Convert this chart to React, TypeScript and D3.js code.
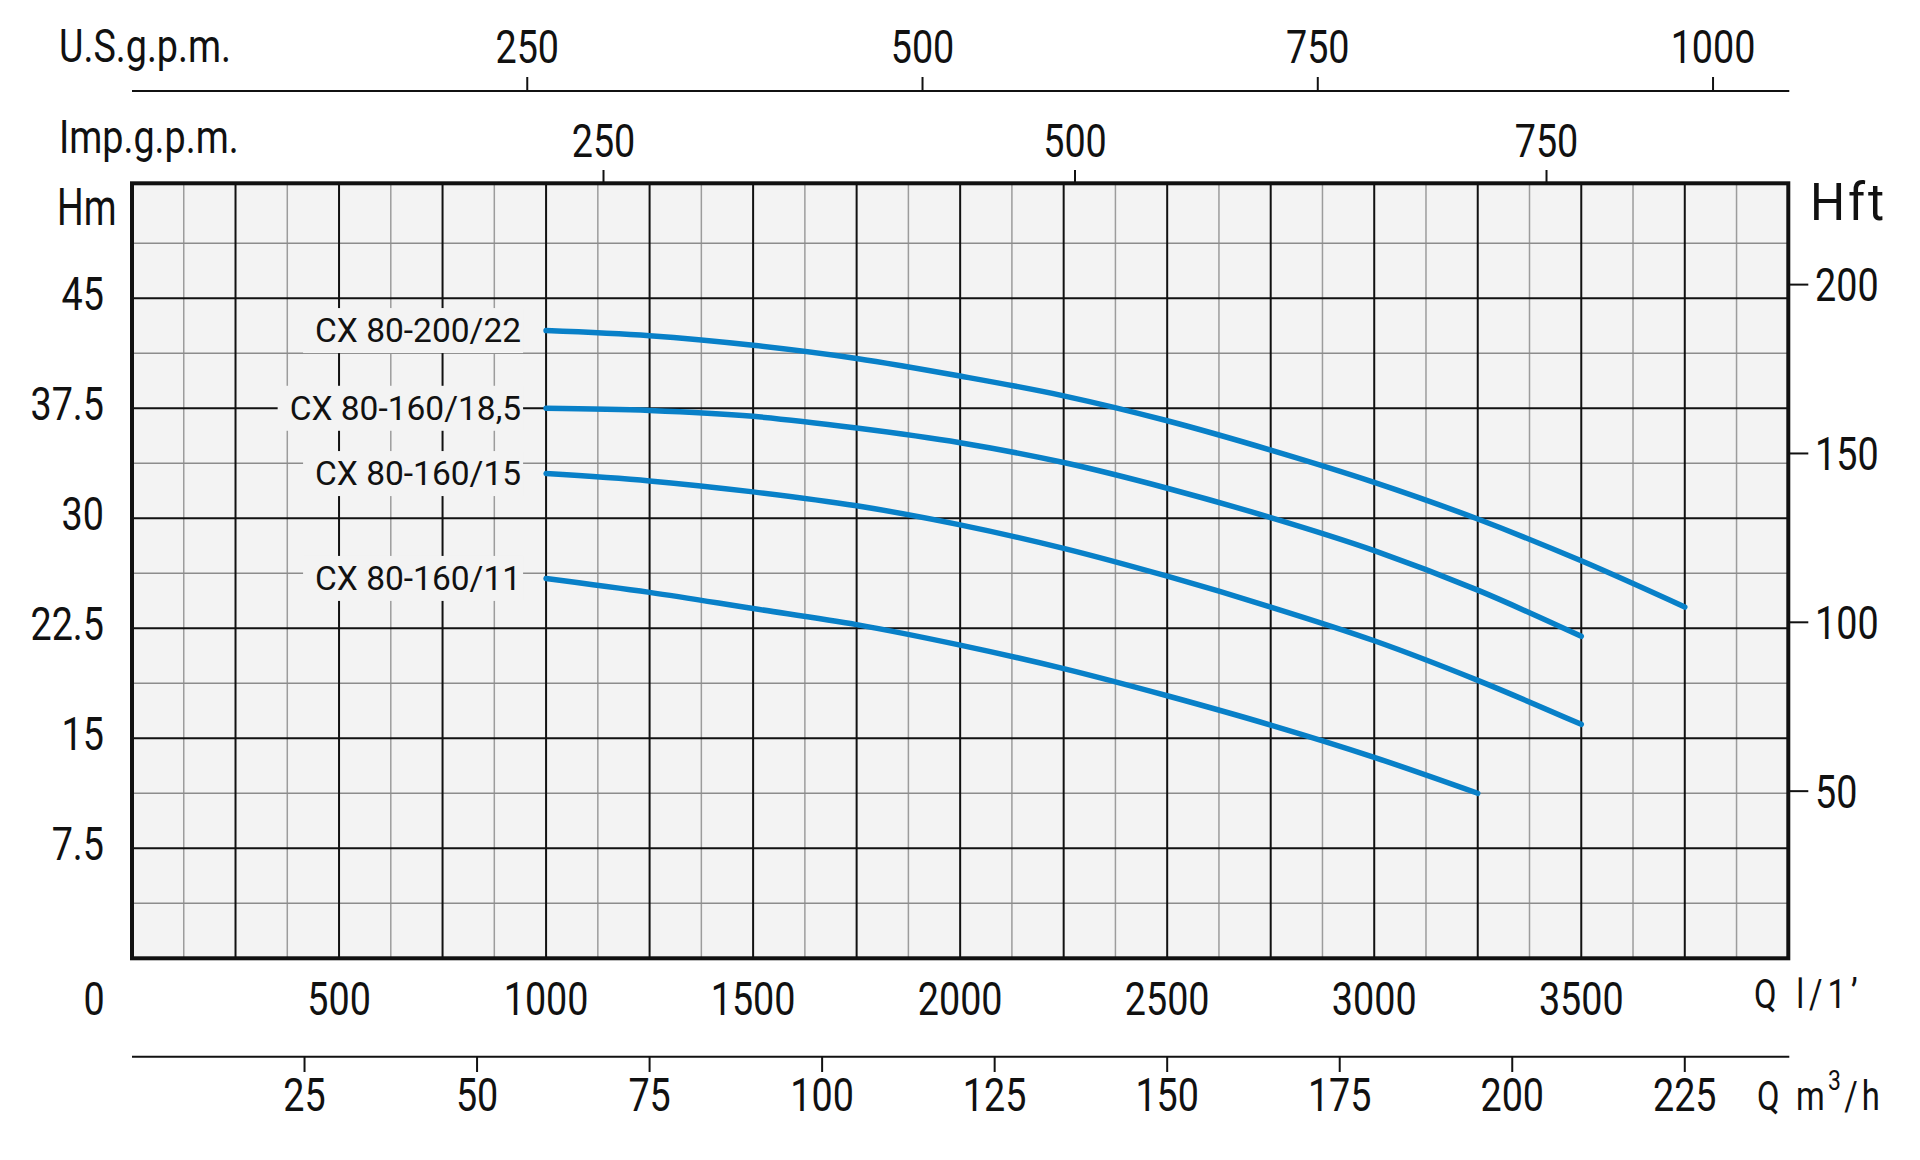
import React, { useRef, useEffect } from 'react';
import * as d3 from 'd3';

// Flow rate in l/min where the curves are read, head in metres
const flowLmin = [1000, 1250, 1500, 1750, 2000, 2250, 2500, 2750, 3000, 3250, 3500, 3750];
const headCX20022 = [42.8, 42.45, 41.8, 40.9, 39.7, 38.35, 36.65, 34.65, 32.45, 29.95, 27.1, 23.95];
const headCX160185 = [37.5, 37.35, 36.95, 36.15, 35.15, 33.8, 32.05, 30.05, 27.8, 25.1, 21.95];
const headCX16015 = [33.05, 32.55, 31.8, 30.85, 29.55, 27.95, 26.05, 23.95, 21.65, 18.95, 15.95];
const headCX16011 = [25.9, 24.95, 23.85, 22.75, 21.35, 19.75, 17.9, 15.9, 13.7, 11.25];
const seriesNames = ['CX 80-200/22', 'CX 80-160/18,5', 'CX 80-160/15', 'CX 80-160/11'];

// Axis ticks
const lminTicks = [500, 1000, 1500, 2000, 2500, 3000, 3500];
const m3hTicks = [25, 50, 75, 100, 125, 150, 175, 200, 225];
const usTicks = [250, 500, 750, 1000];
const impTicks = [250, 500, 750];
const hmTicks = [7.5, 15, 22.5, 30, 37.5, 45];
const hftTicks = [50, 100, 150, 200];

const AXIS_FONT = "Roboto, 'Noto Sans', sans-serif";
const LABEL_FONT = "Roboto, 'Noto Sans', sans-serif";
const SX = 0.82; // squeeze for the narrow technical lettering
const BLUE = '#0880c8';
const BG = '#f3f3f3';

const at = (x: number, y: number, sx = SX) => `translate(${x},${y}) scale(${sx},1)`;

const App: React.FC = () => {
  const svgRef = useRef<SVGSVGElement>(null);

  useEffect(() => {
    if (!svgRef.current) return;
    const svg = d3.select(svgRef.current);
    svg.selectAll('*').remove();

    const left = 132, right = 1788.3, top = 183.3, bottom = 958.3;

    const x = d3.scaleLinear().domain([0, 4000]).range([left, right]);
    const xM3h = d3.scaleLinear().domain([0, 240]).range([left, right]);
    const xUs = d3.scaleLinear().domain([0, 1047.6]).range([left, right]);
    const xImp = d3.scaleLinear().domain([0, 878.2]).range([left, right]);
    const y = d3.scaleLinear().domain([0, 52.84]).range([bottom, top]);
    const yFt = d3.scaleLinear().domain([0, 230]).range([960, top]);

    // plot background
    svg.append('rect')
      .attr('x', left).attr('y', top)
      .attr('width', right - left).attr('height', bottom - top)
      .attr('fill', BG);

    // grid
    const grid = svg.append('g');
    const minorX = d3.range(125, 4000, 250);
    const majorX = d3.range(250, 4000, 250);
    const minorY = d3.range(3.75, 50, 7.5);
    const majorY = d3.range(7.5, 50, 7.5);

    grid.selectAll('.minor-x').data(minorX).enter().append('line')
      .attr('x1', d => x(d)).attr('x2', d => x(d)).attr('y1', top).attr('y2', bottom)
      .attr('stroke', '#9c9c9c').attr('stroke-width', 1.5);
    grid.selectAll('.minor-y').data(minorY).enter().append('line')
      .attr('x1', left).attr('x2', right).attr('y1', d => y(d)).attr('y2', d => y(d))
      .attr('stroke', '#8c8c8c').attr('stroke-width', 1.5);
    grid.selectAll('.major-x').data(majorX).enter().append('line')
      .attr('x1', d => x(d)).attr('x2', d => x(d)).attr('y1', top).attr('y2', bottom)
      .attr('stroke', '#111').attr('stroke-width', 2);
    grid.selectAll('.major-y').data(majorY).enter().append('line')
      .attr('x1', left).attr('x2', right).attr('y1', d => y(d)).attr('y2', d => y(d))
      .attr('stroke', '#111').attr('stroke-width', 2);

    // curves
    const allHeads = [headCX20022, headCX160185, headCX16015, headCX16011];
    const line = d3.line<[number, number]>()
      .x(d => x(d[0])).y(d => y(d[1]))
      .curve(d3.curveMonotoneX);

    allHeads.forEach((heads, i) => {
      const pts: [number, number][] = heads.map((h, j) => [flowLmin[j], h]);

      // label with a background patch that hides the grid
      const lg = svg.append('g');
      const txt = lg.append('text')
        .attr('x', x(flowLmin[0]) - 25)
        .attr('y', y(heads[0]) + 11.5)
        .attr('text-anchor', 'end')
        .attr('font-family', LABEL_FONT)
        .attr('font-size', 33.5)
        .attr('fill', '#111')
        .text(seriesNames[i]);
      const bb = (txt.node() as SVGTextElement).getBBox();
      lg.insert('rect', 'text')
        .attr('x', bb.x - 12).attr('y', bb.y - 3)
        .attr('width', bb.width + 14).attr('height', bb.height + 6)
        .attr('fill', BG);

      svg.append('path')
        .attr('d', line(pts) || '')
        .attr('fill', 'none')
        .attr('stroke', BLUE)
        .attr('stroke-width', 5.5)
        .attr('stroke-linecap', 'round');
    });

    // frame
    svg.append('rect')
      .attr('x', left).attr('y', top)
      .attr('width', right - left).attr('height', bottom - top)
      .attr('fill', 'none').attr('stroke', '#111').attr('stroke-width', 4);

    const axisText = (g: d3.Selection<any, any, any, any>, size = 46) =>
      g.attr('font-family', AXIS_FONT).attr('font-size', size).attr('fill', '#111');

    // left Hm axis
    axisText(svg.append('g').selectAll('text').data(hmTicks).enter().append('text')
      .attr('transform', d => at(104, y(d) + 12))
      .attr('text-anchor', 'end')
      .text(d => String(d)));
    axisText(svg.append('text').attr('transform', at(57, 225, 0.72)).text('Hm'), 52);

    // right Hft axis
    const ft = svg.append('g');
    ft.selectAll('line').data(hftTicks).enter().append('line')
      .attr('x1', right).attr('x2', right + 20)
      .attr('y1', d => yFt(d)).attr('y2', d => yFt(d))
      .attr('stroke', '#111').attr('stroke-width', 2);
    axisText(ft.selectAll('text').data(hftTicks).enter().append('text')
      .attr('transform', d => at(1815, yFt(d) + 16.5))
      .text(d => String(d)));
    axisText(svg.append('text').attr('transform', at(1810, 220, 0.95))
      .attr('letter-spacing', 3).text('Hft'), 52);

    // bottom l/min labels
    axisText(svg.append('g').selectAll('text').data(lminTicks).enter().append('text')
      .attr('transform', d => at(x(d), 1015))
      .attr('text-anchor', 'middle')
      .text(d => String(d)));
    axisText(svg.append('text').attr('transform', at(x(0) - 38, 1015))
      .attr('text-anchor', 'middle').text('0'));
    const ql = axisText(svg.append('text').attr('transform', at(1754, 1008)), 40);
    ql.append('tspan').text('Q');
    ql.append('tspan').attr('dx', 24).attr('letter-spacing', 6).text('l/1’');

    // m3/h axis
    const m3 = svg.append('g');
    m3.append('line')
      .attr('x1', left).attr('x2', right + 1).attr('y1', 1056.7).attr('y2', 1056.7)
      .attr('stroke', '#111').attr('stroke-width', 2);
    m3.selectAll('line.t').data(m3hTicks).enter().append('line')
      .attr('x1', d => xM3h(d)).attr('x2', d => xM3h(d))
      .attr('y1', 1056.7).attr('y2', 1072)
      .attr('stroke', '#111').attr('stroke-width', 2);
    axisText(m3.selectAll('text').data(m3hTicks).enter().append('text')
      .attr('transform', d => at(xM3h(d), 1111))
      .attr('text-anchor', 'middle')
      .text(d => String(d)));
    const qm = axisText(svg.append('text').attr('transform', at(1757, 1110)), 40);
    qm.append('tspan').text('Q');
    qm.append('tspan').attr('dx', 20).attr('letter-spacing', 4).text('m');
    qm.append('tspan').attr('dy', -20).attr('font-size', 28).attr('letter-spacing', 4).text('3');
    qm.append('tspan').attr('dy', 20).attr('letter-spacing', 5).text('/h');

    // U.S. g.p.m. axis
    const us = svg.append('g');
    us.append('line')
      .attr('x1', left).attr('x2', right + 1).attr('y1', 91).attr('y2', 91)
      .attr('stroke', '#111').attr('stroke-width', 2);
    us.selectAll('line.t').data(usTicks).enter().append('line')
      .attr('x1', d => xUs(d)).attr('x2', d => xUs(d))
      .attr('y1', 91).attr('y2', 77)
      .attr('stroke', '#111').attr('stroke-width', 2);
    axisText(us.selectAll('text').data(usTicks).enter().append('text')
      .attr('transform', d => at(xUs(d), 63))
      .attr('text-anchor', 'middle')
      .text(d => String(d)));
    axisText(svg.append('text').attr('transform', at(59, 62)).text('U.S.g.p.m.'));

    // Imp. g.p.m. axis (sits on the frame)
    const imp = svg.append('g');
    imp.selectAll('line').data(impTicks).enter().append('line')
      .attr('x1', d => xImp(d)).attr('x2', d => xImp(d))
      .attr('y1', top).attr('y2', 170)
      .attr('stroke', '#111').attr('stroke-width', 2);
    axisText(imp.selectAll('text').data(impTicks).enter().append('text')
      .attr('transform', d => at(xImp(d), 157))
      .attr('text-anchor', 'middle')
      .text(d => String(d)));
    axisText(svg.append('text').attr('transform', at(59, 153)).text('Imp.g.p.m.'));
  }, []);

  return (
    <svg
      ref={svgRef}
      width={1920}
      height={1160}
      style={{ position: 'absolute', left: 0, top: 0, background: '#fff' }}
    />
  );
};

export default App;
